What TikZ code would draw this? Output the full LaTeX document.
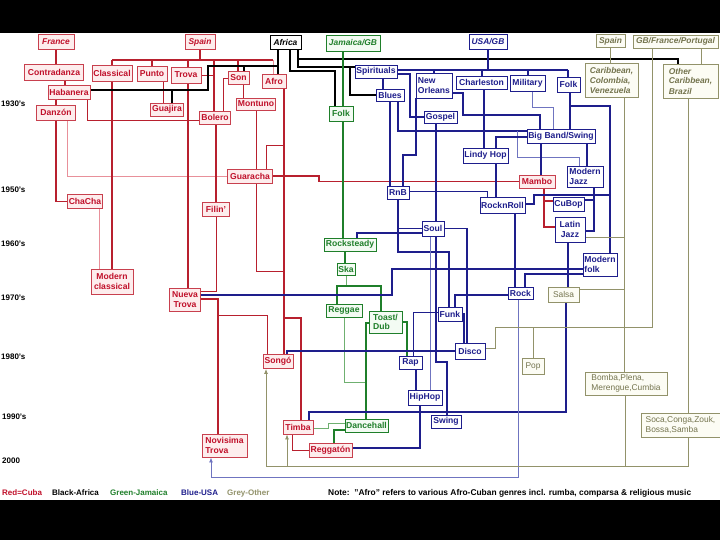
\documentclass[tikz,border=0pt]{standalone}
\usepackage{fontspec}
\setmainfont{Liberation Sans}
\usetikzlibrary{arrows.meta,backgrounds}
\definecolor{cred}{HTML}{C0102A}
\definecolor{credborder}{HTML}{C8404E}
\definecolor{credline}{HTML}{B8202E}
\definecolor{credlight}{HTML}{E8909A}
\definecolor{credfill}{HTML}{FDEDED}
\definecolor{cblue}{HTML}{1E1E8C}
\definecolor{cbluelight}{HTML}{6F74C0}
\definecolor{cgreen}{HTML}{1F7F2A}
\definecolor{cgreenlight}{HTML}{6FB070}
\definecolor{cgreenfill}{HTML}{F3FBF3}
\definecolor{colive}{HTML}{92926A}
\definecolor{colivetext}{HTML}{74744E}
\definecolor{colivefill}{HTML}{FCFCF4}
\begin{document}
\begin{tikzpicture}[x=1pt,y=-1pt,
  box/.style={draw, rectangle, inner sep=0.8pt, line width=0.9pt, align=center,
    font=\fontsize{8.6}{9.4}\selectfont\bfseries},
  rbox/.style={box, draw=credborder, fill=credfill, text=cred},
  bbox/.style={box, draw=cblue, fill=white, text=cblue},
  gbox/.style={box, draw=cgreen, fill=cgreenfill, text=cgreen},
  kbox/.style={box, draw=black, fill=white, text=black},
  obox/.style={box, draw=colive, fill=colivefill, text=colivetext},
  orig/.style={font=\fontsize{8.4}{10}\selectfont\bfseries\itshape},
  plain/.style={font=\fontsize{8.4}{10}\selectfont},
  wh/.style 2 args={minimum width=#1pt, minimum height=#2pt},
  rl/.style={draw=credline, line width=1.3pt},
  rlt/.style={draw=credline, line width=0.8pt},
  rll/.style={draw=credlight, line width=0.8pt},
  bl/.style={draw=cblue, line width=1.5pt},
  blt/.style={draw=cblue, line width=0.9pt},
  bll/.style={draw=cbluelight, line width=0.9pt},
  kl/.style={draw=black, line width=1.4pt},
  gl/.style={draw=cgreen, line width=1.4pt},
  gll/.style={draw=cgreenlight, line width=0.8pt},
  ol/.style={draw=colive, line width=0.8pt},
  decade/.style={anchor=west, inner sep=0pt, font=\fontsize{8}{9}\selectfont\bfseries},
  legend/.style={anchor=west, inner sep=0pt, font=\fontsize{8}{9}\selectfont\bfseries},
  tip/.style={-{Latex[length=5pt,width=4pt]}}
]
\useasboundingbox (0,0) rectangle (720,540);

% ---------- Cuba (red) ----------
\node[rbox,orig,wh={36}{15}] (france) at (56,41.5) {France};
\node[rbox,orig,wh={30}{15}] (spainR) at (200,42) {Spain};
\node[rbox,wh={59}{16}] (contradanza) at (54,72) {Contradanza};
\node[rbox,wh={40}{16}] (classical) at (112,73) {Classical};
\node[rbox,wh={30}{15}] (punto) at (152,73.5) {Punto};
\node[rbox,wh={30}{16}] (trova) at (186,75) {Trova};
\node[rbox,wh={21}{13}] (son) at (238.5,78) {Son};
\node[rbox,wh={24}{14}] (afro) at (274,81) {Afro};
\node[rbox,wh={42}{14}] (habanera) at (69,92) {Habanera};
\node[rbox,wh={39}{15}] (danzon) at (56,112.5) {Danzón};
\node[rbox,wh={33}{13}] (guajira) at (167,109.5) {Guajira};
\node[rbox,wh={39}{12}] (montuno) at (256,104) {Montuno};
\node[rbox,wh={31}{13}] (bolero) at (215,117.5) {Bolero};
\node[rbox,wh={45}{14}] (guaracha) at (250,176) {Guaracha};
\node[rbox,wh={35}{14}] (chacha) at (85,201.5) {ChaCha};
\node[rbox,wh={27}{14}] (filin) at (216,209) {Filin'};
\node[rbox,wh={42}{25}] (modclassical) at (112,281.5) {Modern\\classical};
\node[rbox,wh={31}{23}] (nuevatrova) at (185,299.5) {Nueva\\Trova};
\node[rbox,wh={30}{14}] (songo) at (278,361.5) {Songó};
\node[rbox,wh={30}{14}] (timba) at (298,427) {Timba};
\node[rbox,wh={43}{14}] (reggaeton) at (330.5,450) {Reggatón};
\node[rbox,wh={45}{23},align=left] (novisima) at (224.5,445.5) {Novisima\\Trova};
\node[rbox,wh={36}{13}] (mambo) at (537,181.5) {Mambo};

% ---------- Africa (black) ----------
\node[kbox,orig,wh={31}{14}] (africa) at (285.5,42) {Africa};

% ---------- Jamaica (green) ----------
\node[gbox,orig,wh={54}{16}] (jamaica) at (353,43) {Jamaica/GB};
\node[gbox,wh={24}{15}] (folkG) at (341,113.5) {Folk};
\node[gbox,wh={52}{13}] (rocksteady) at (350,244.5) {Rocksteady};
\node[gbox,wh={18}{12}] (ska) at (346,269) {Ska};
\node[gbox,wh={36}{13}] (reggae) at (344,310.5) {Reggae};
\node[gbox,wh={33}{22},align=left] (toast) at (385.5,322) {Toast/\\Dub};
\node[gbox,wh={43}{13}] (dancehall) at (366.5,425.5) {Dancehall};

% ---------- USA (blue) ----------
\node[bbox,orig,wh={38}{15}] (usa) at (488,42) {USA/GB};
\node[bbox,wh={42}{13}] (spirituals) at (376,71.5) {Spirituals};
\node[bbox,wh={28}{12}] (blues) at (390,95) {Blues};
\node[bbox,wh={36}{25},align=left] (neworleans) at (434,85.5) {New\\Orleans};
\node[bbox,wh={51}{13}] (charleston) at (481.5,82.5) {Charleston};
\node[bbox,wh={35}{16}] (military) at (527.5,83.5) {Military};
\node[bbox,wh={23}{15}] (folkB) at (568.5,84.5) {Folk};
\node[bbox,wh={33}{12}] (gospel) at (440.5,117) {Gospel};
\node[bbox,wh={68}{14}] (bigband) at (561,136) {Big Band/Swing};
\node[bbox,wh={45}{15}] (lindyhop) at (485.5,155.5) {Lindy Hop};
\node[bbox,wh={36}{21},align=left] (modjazz) at (585,176.5) {Modern\\Jazz};
\node[bbox,wh={22}{13}] (rnb) at (398,192.5) {RnB};
\node[bbox,wh={45}{16}] (rocknroll) at (502.5,205) {RocknRoll};
\node[bbox,wh={31}{14}] (cubop) at (568.5,204) {CuBop};
\node[bbox,wh={30}{25}] (latinjazz) at (570,229.5) {Latin\\Jazz};
\node[bbox,wh={22}{15}] (soul) at (433,228.5) {Soul};
\node[bbox,wh={34}{23},align=left] (modfolk) at (600,264.5) {Modern\\folk};
\node[bbox,wh={25}{12}] (rock) at (520.5,293) {Rock};
\node[bbox,wh={24}{14}] (funk) at (450,314) {Funk};
\node[bbox,wh={30}{16}] (disco) at (470,351) {Disco};
\node[bbox,wh={23}{13}] (rap) at (410.5,362.5) {Rap};
\node[bbox,wh={34}{15}] (hiphop) at (425,397.5) {HipHop};
\node[bbox,wh={30}{13}] (swing) at (446,421.5) {Swing};

% ---------- Other (grey) ----------
\node[obox,orig,wh={29}{13}] (spainG) at (610.5,41) {Spain};
\node[obox,orig,wh={85}{13}] (gbfp) at (675.5,41.5) {GB/France/Portugal};
\node[obox,orig,wh={53}{34},align=left] (caribbean) at (611.5,80) {Caribbean,\\Colombia,\\Venezuela};
\node[obox,orig,wh={55}{34},align=left] (othercarib) at (690.5,81) {Other\\Caribbean,\\Brazil};
\node[obox,plain,wh={31}{15}] (salsa) at (563.5,294.5) {Salsa};
\node[obox,plain,wh={22}{16}] (pop) at (533,366) {Pop};
\node[obox,plain,wh={82}{23},align=left] (bomba) at (626,383.5) {Bomba,Plena,\\Merengue,Cumbia};
\node[obox,plain,wh={79}{24},align=left] (saca) at (680.5,425) {Soca,Conga,Zouk,\\Bossa,Samba};

% ---------- decades ----------
\node[decade] (d30) at (1,104) {1930's};
\node[decade] (d50) at (1,190) {1950's};
\node[decade] (d60) at (1,244) {1960's};
\node[decade] (d70) at (1,298) {1970's};
\node[decade] (d80) at (1,357) {1980's};
\node[decade] (d90) at (2,417) {1990's};
\node[decade] (d00) at (2,461) {2000};

% ---------- legend ----------
\node[legend,text=cred] (lg1) at (2,493) {Red=Cuba};
\node[legend,text=black] (lg2) at (52,493) {Black-Africa};
\node[legend,text=cgreen] (lg3) at (110,493) {Green-Jamaica};
\node[legend,text=cblue] (lg4) at (181,493) {Blue-USA};
\node[legend,text=colive] (lg5) at (227,493) {Grey-Other};
\node[legend,text=black,font=\fontsize{8.4}{9}\selectfont\bfseries] (note) at (328,493) {Note:\ \ "Afro" refers to various Afro-Cuban genres incl. rumba, comparsa \& religious music};

\begin{scope}[on background layer]
\fill[black] (0,0) rectangle (720,33);
\fill[black] (0,500) rectangle (720,540);

% red connectors
\draw[rl] (france.south -| 56,0) -- (contradanza.north -| 56,0);
\draw[rl] (contradanza.south -| 65,0) -- (habanera.north -| 65,0);
\draw[rl] (habanera.south -| 56,0) -- (danzon.north -| 56,0);
\draw[rl,line width=1.8pt] (danzon.south) |- (chacha.west);
\draw[rll] (danzon.south -| 67,0) |- (guaracha.west);
\draw[rlt] (habanera.south -| 87,0) |- (bolero.west |- 0,120);
\coordinate (spbus) at (200,60);
\draw[rl] (spainR.south) -- (spbus);
\draw[rl] (112,60) -- (273,60);
\draw[rl] (112,60) -- (modclassical.north -| 112,0);
\draw[rl] (152,60) -- (punto.north -| 152,0);
\draw[rl,line width=1.8pt] (188,60) -- (nuevatrova.north -| 188,0);
\draw[rl] (214,60) -- (bolero.north -| 214,0);
\draw[rl] (238,60) -- (son.north -| 238,0);
\draw[rll] (273,60) -- (afro.north -| 273,0);
\draw[rlt] (punto.south -| 163,0) -- (guajira.north -| 163,0);
\draw[rlt] (trova.east) -- (trova.east -| 214,0);
\draw[rlt] (son.west) -| (bolero.north -| 223,0);
\draw[rlt] (son.south -| 243,0) -- (montuno.north -| 243,0);
\draw[rlt] (montuno.south) |- (284,271);
\draw[rl] (afro.south -| 284,0) -- (songo.north -| 284,0);
\draw[rlt] (284,145) -| (guaracha.north -| 266,0);
\draw[rl] (284,318) -| (timba.north -| 301,0);
\draw[rl] (guaracha.east) -- (319,176) -- (319,181.5) -- (mambo.west);
\draw[rl] (bolero.south -| 216,0) -- (filin.north -| 216,0);
\draw[rlt] (filin.south) |- (nuevatrova.east |- 0,291);
\draw[rll] (chacha.south -| 99,0) -- (modclassical.north -| 99,0);
\draw[rl,line width=1.8pt] (nuevatrova.east |- 0,299) -| (novisima.north -| 218,0);
\draw[rlt] (218,315) -| (songo.north -| 267,0);
\draw[rlt] (timba.south -| 292,0) |- (reggaeton.west);
\draw[rl] (mambo.south -| 544,0) |- (cubop.west |- 0,201);
\draw[rl] (544,201) |- (latinjazz.west |- 0,227);

% black connectors
\draw[kl] (africa.south -| 278,0) -- (afro.north -| 278,0);
\draw[kl] (278,66) -- (208,66) -- (208,90) -- (habanera.east |- 0,90);
\draw[kl] (244,66) -- (son.north -| 244,0);
\draw[kl] (172,90) -- (guajira.north -| 172,0);
\draw[kl] (africa.south -| 290,0) |- (335,71) -- (folkG.north -| 335,0);
\draw[kl] (africa.south -| 298,0) -- (298,59) -- (678,59) -- (othercarib.north -| 678,0);
\draw[kl] (298,59) -- (298,67) -- (spirituals.west |- 0,67);
\draw[kl] (350,67) |- (blues.west);

% green connectors
\draw[gl] (jamaica.south -| 343,0) -- (rocksteady.north -| 343,0);
\draw[gl] (rocksteady.south -| 345,0) -- (ska.north -| 345,0);
\draw[gll] (ska.south -| 346,0) -- (346,286);
\draw[gl] (reggae.north -| 337,0) -- (337,286) -- (381,286) -- (toast.north -| 381,0);
\draw[gll] (reggae.south) |- (366,382);
\draw[gl] (toast.west |- 0,323) -| (dancehall.north -| 366,0);
\draw[gl] (toast.east |- 0,322) -| (rap.north -| 407,0);
\draw[gll] (dancehall.west |- 0,423) -- (328,423) -- (328,428) -- (timba.east |- 0,428);
\draw[gl] (dancehall.west |- 0,430) -| (reggaeton.north -| 334,0);

% blue connectors
\draw[bl] (usa.south) -- (488,70);
\draw[bl] (spirituals.east |- 0,70) -- (568,70);
\draw[bl] (434,70) -- (neworleans.north -| 434,0);
\draw[bl] (482,70) -- (charleston.north -| 482,0);
\draw[bl] (528,70) -- (military.north -| 528,0);
\draw[bl] (568,70) -- (folkB.north -| 568,0);
\draw[bl] (spirituals.south -| 383,0) -- (blues.north -| 383,0);
\draw[bl] (spirituals.east |- 0,74) -- (410,74) |- (gospel.west);
\draw[bl] (blues.south -| 390,0) -- (rnb.north -| 390,0);
\draw[bl] (blues.south -| 398,0) -- (398,131) -- (bigband.west |- 0,131);
\draw[bll] (517,131) -- (517,157) -| (modjazz.north -| 579,0);
\draw[bl] (neworleans.south -| 416,0) -- (416,155) -- (403,155) -- (rnb.north -| 403,0);
\draw[bl] (neworleans.east |- 0,93) -- (463,93) -- (463,115) -- (540,115) -- (bigband.north -| 540,0);
\draw[bll] (military.south -| 532,0) |- (553,107) -- (bigband.north -| 553,0);
\draw[bl] (folkB.south -| 570,0) -- (bigband.north -| 570,0);
\draw[bl] (570,106) -| (modfolk.north -| 610,0);
\draw[bl] (charleston.south -| 484,0) -- (lindyhop.north -| 484,0);
\draw[bl] (bigband.west |- 0,137) -| (lindyhop.north -| 496,0);
\draw[bl] (lindyhop.south -| 496,0) -- (rocknroll.north -| 496,0);
\draw[bl] (bigband.south -| 541,0) -- (mambo.north -| 541,0);
\draw[bl] (bigband.south -| 587,0) -- (modjazz.north -| 587,0);
\draw[blt] (rnb.east |- 0,191) -| (rocknroll.north -| 487,0);
\draw[bl] (rnb.south) |- (soul.west);
\draw[bl] (398,228) -- (398,252) -| (funk.north -| 449,0);
\draw[bl] (gospel.south -| 436,0) -- (soul.north -| 436,0);
\draw[bl] (soul.west |- 0,233) -| (rocksteady.north -| 357,0);
\draw[bl] (soul.east) -| (disco.north -| 467,0);
\draw[bll] (soul.south -| 430,0) -- (hiphop.north -| 430,0);
\draw[bl] (soul.south -| 436,0) |- (447,362) -- (swing.north -| 447,0);
\draw[bl] (funk.east) -| (disco.north -| 464,0);
\draw[bl] (rock.west |- 0,295) -| (funk.north -| 455,0);
\draw[blt] (funk.west |- 0,312) -| (rap.north -| 413,0);
\draw[bl] (rap.south -| 416,0) -- (hiphop.north -| 416,0);
\draw[bl] (hiphop.south -| 420,0) |- (reggaeton.east |- 0,448);
\draw[bl,line width=1.8pt] (disco.west) -| (songo.north -| 287,0);
\draw[bl,line width=1.8pt] (modfolk.west |- 0,274) -| (rock.north -| 525,0);
\draw[bl] (modfolk.west |- 0,269) -- (392,269) -- (392,295) -- (nuevatrova.east |- 0,295);
\draw[bl] (rocknroll.south -| 515,0) -- (rock.north -| 515,0);
\draw[bl] (rocknroll.east |- 0,204) -- (534,204) -- (534,195) -- (610,195);
\draw[bl] (modjazz.south -| 594,0) |- (latinjazz.east |- 0,231);
\draw[bl] (cubop.east |- 0,200) -- (594,200);
\draw[bl] (latinjazz.south -| 568,0) -- (salsa.north -| 568,0);
\draw[bl] (salsa.south -| 566,0) -- (566,412) -- (309,412) -- (timba.north -| 309,0);
\draw[bll,tip] (rock.south -| 518,0) -- (518,477) -| (novisima.south -| 211,0);

% grey / olive connectors
\draw[ol] (spainG.south -| 610,0) -- (caribbean.north -| 610,0);
\draw[ol] (gbfp.south -| 701,0) -- (othercarib.north -| 701,0);
\draw[ol] (gbfp.south -| 652,0) -- (652,327) -- (495,327) -- (495,348) -- (disco.east |- 0,348);
\draw[ol] (533,327) -- (pop.north -| 533,0);
\draw[ol] (caribbean.south -| 624,0) -- (bomba.north -| 624,0);
\draw[ol] (624,237) -- (latinjazz.east |- 0,237);
\draw[ol] (624,289) -- (salsa.east |- 0,289);
\draw[ol] (othercarib.south -| 688,0) -- (saca.north -| 688,0);
\draw[ol] (bomba.south -| 625,0) -- (625,466);
\draw[ol,tip] (saca.south -| 688,0) -- (688,466) -| (songo.south -| 266,0);
\draw[ol,tip] (287,466) -- (timba.south -| 287,0);
\end{scope}
\end{tikzpicture}
\end{document}
